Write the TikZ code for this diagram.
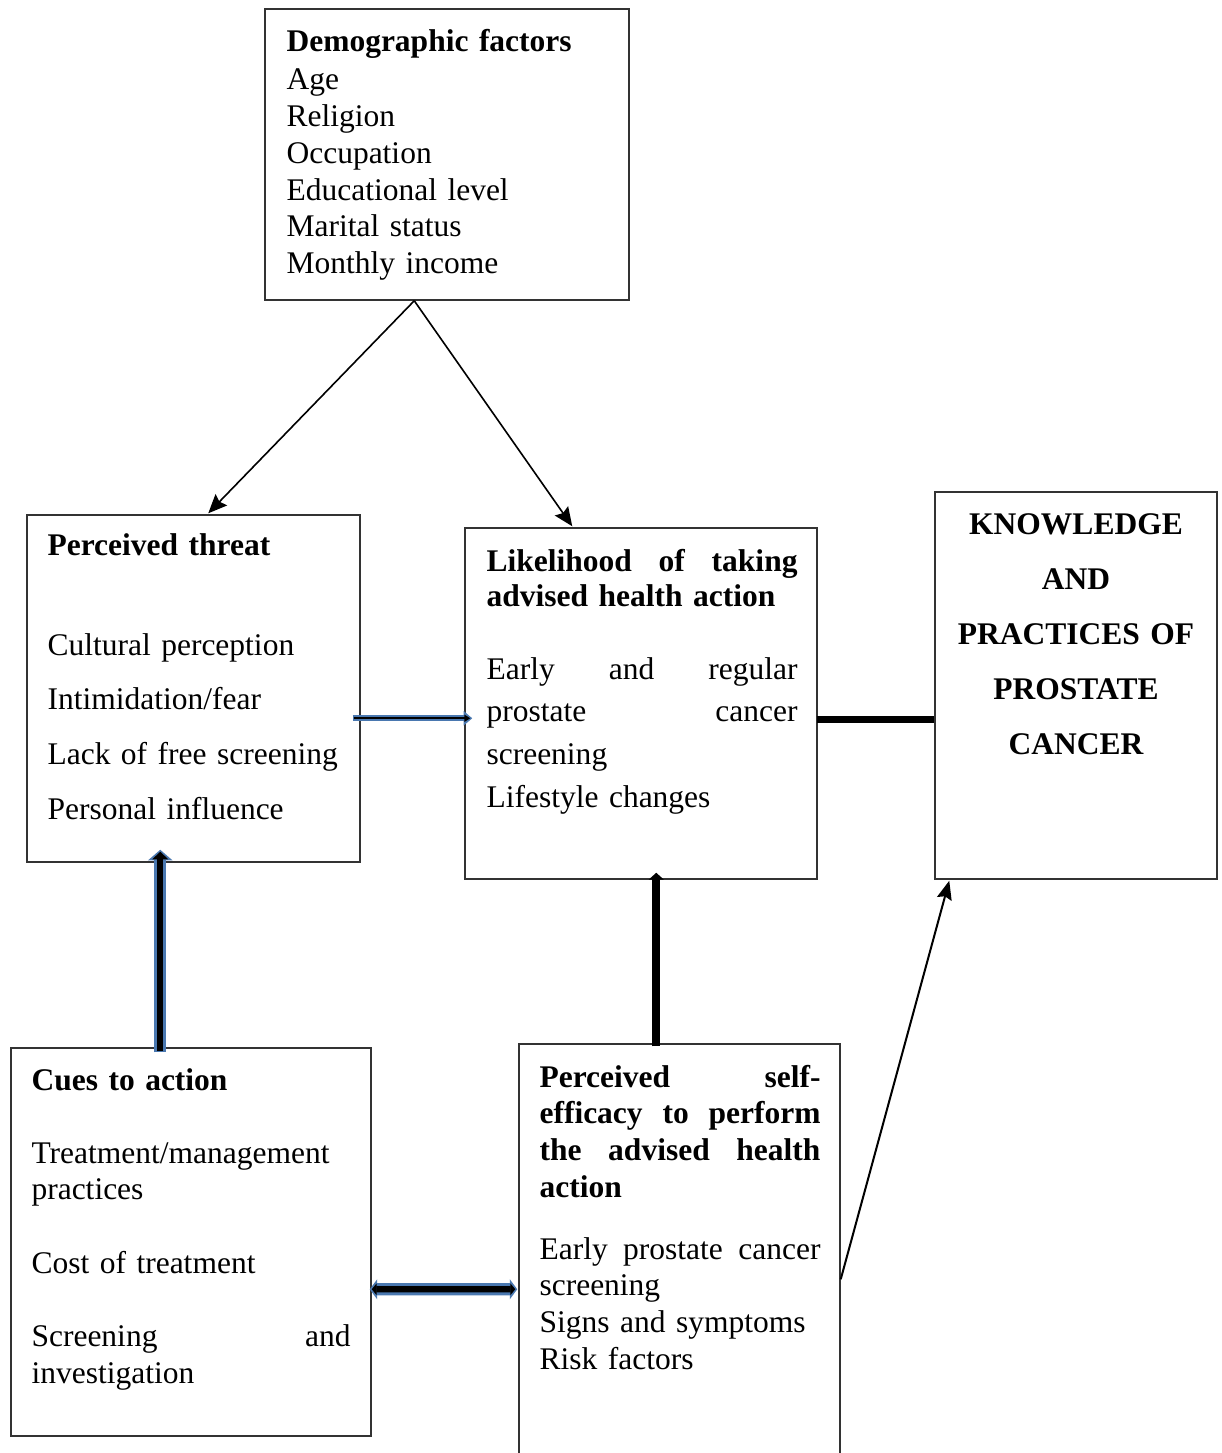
\documentclass[tikz,border=0pt]{standalone}
\usepackage{fontspec}
\setmainfont[WordSpace=0.85]{Liberation Serif}
\usetikzlibrary{arrows.meta,fit,calc}
\definecolor{arrblue}{HTML}{4A78B0}
\begin{document}
\begin{tikzpicture}[x=0.373pt,y=-0.373pt,
  box/.style={draw=black!80, line width=0.55pt, inner sep=0pt},
  txt/.style={inner sep=0pt, anchor=base west, align=left, font=\fontsize{11.75}{13.7}\selectfont},
  thinarr/.style={line width=0.6pt, -{Stealth[length=7pt,width=6pt,inset=1pt]}},
  blueout/.style={arrblue, line width=#1},
  blackin/.style={black, line width=#1}]
\fill[white] (0,0) rectangle (1222,1453);
\useasboundingbox (0,0) rectangle (1222,1453);

% boxes
\node[box, fit={(265,9)(629,300)}] (demo) {};
\node[box, fit={(27,515)(360,862)}] (threat) {};
\node[box, fit={(465,528)(817,879)}] (like) {};
\node[box, fit={(935,492)(1217,879)}] (know) {};
\node[box, fit={(11,1048)(371,1436)}] (cues) {};
\node[box, fit={(519,1044)(840,1475)}] (self) {};

% texts
\node[txt, text width=120pt] (demoT) at (286,51)
  {\textbf{Demographic factors}\\[0.8pt]Age\\Religion\\Occupation\\Educational level\\Marital status\\Monthly income};

\node[txt, text width=120pt] (threatT) at (47,555) {\textbf{Perceived threat}};
\node[txt, text width=120pt, font=\fontsize{11.75}{20.5}\selectfont] (threatB) at (47,655)
  {Cultural perception\\Intimidation/fear\\Lack of free screening\\Personal influence};

\node[txt, text width=116pt, font=\fontsize{11.75}{13.1}\selectfont] (likeT) at (486,571)
  {\textbf{Likelihood\hfill of\hfill taking}\\\textbf{advised health action}};
\node[txt, text width=116pt, font=\fontsize{11.75}{15.95}\selectfont] (likeB) at (486,679)
  {Early\hfill and\hfill regular\\prostate\hfill cancer\\screening\\Lifestyle changes};

\node[txt, anchor=base, align=center, text width=100pt, font=\fontsize{11.75}{20.6}\selectfont\bfseries] (knowT) at (1076,534)
  {KNOWLEDGE\\AND\\PRACTICES OF\\PROSTATE\\CANCER};

\node[txt, text width=119pt] (cuesT) at (31,1090) {\textbf{Cues to action}};
\node[txt, text width=119pt] (cuesB) at (31,1163)
  {Treatment/management\\practices\\[13.7pt]Cost of treatment\\[13.7pt]Screening\hfill and\\investigation};

\node[txt, text width=104.8pt, font=\fontsize{11.75}{13.7}\selectfont\bfseries] (selfT) at (539,1087)
  {Perceived\hfill self-\\efficacy\hfill to\hfill perform\\the\hfill advised\hfill health\\action};
\node[txt, text width=104.8pt] (selfB) at (539,1259)
  {Early\hfill prostate\hfill cancer\\screening\\Signs and symptoms\\Risk factors};

% thin arrows from demographic box
\draw[thinarr] ($(demo.south west)+(150,0)$) -- ($(threat.north west)+(182,-1)$);
\draw[thinarr] ($(demo.south west)+(150,0)$) -- ($(like.north west)+(108,-1)$);

% threat -> likelihood (blue outlined)
\draw[blueout=2.4pt, -{Triangle[length=3.2pt,width=5.2pt]}] ($(threat.north east)+(-8,204)$) -- ($(like.north west)+(8,191)$);
\draw[blackin=0.85pt, -{Triangle[length=2.2pt,width=2.6pt]}] ($(threat.north east)+(-7,204)$) -- ($(like.north west)+(6,191)$);

% cues -> threat (blue outlined)
\draw[blueout=4.4pt, -{Triangle[length=4pt,width=9pt]}] ($(cues.north west)+(150,5)$) -- ($(threat.south west)+(134,-13)$);
\draw[blackin=2.4pt, -{Triangle[length=2.8pt,width=5.8pt]}] ($(cues.north west)+(150,4)$) -- ($(threat.south west)+(134,-11)$);

% cues <-> self-efficacy (blue outlined)
\draw[blueout=4.6pt, {Triangle[length=2.8pt,width=7.4pt]}-{Triangle[length=2.8pt,width=7.4pt]}] ($(cues.north east)+(-2,242)$) -- ($(self.north west)+(-1,246)$);
\draw[blackin=2.3pt, {Triangle[length=1.8pt,width=4.2pt]}-{Triangle[length=1.8pt,width=4.2pt]}] ($(cues.north east)+(0,242)$) -- ($(self.north west)+(-3,246)$);

% self-efficacy -> likelihood (thick black)
\draw[black, line width=3pt, -{Triangle[length=2.6pt,width=5.6pt]}] ($(self.north west)+(138,3)$) -- ($(like.south west)+(192,-7)$);

% likelihood -- knowledge (thick black)
\draw[black, line width=2.6pt] ($(like.north east)+(-1,192)$) -- ($(know.north west)+(0,228)$);

% self-efficacy -> knowledge (thin)
\draw[line width=0.75pt, -{Stealth[length=7pt,width=5.6pt,inset=1pt]}] ($(self.north east)+(0,236)$) -- ($(know.south west)+(15,1)$);
\end{tikzpicture}
\end{document}
